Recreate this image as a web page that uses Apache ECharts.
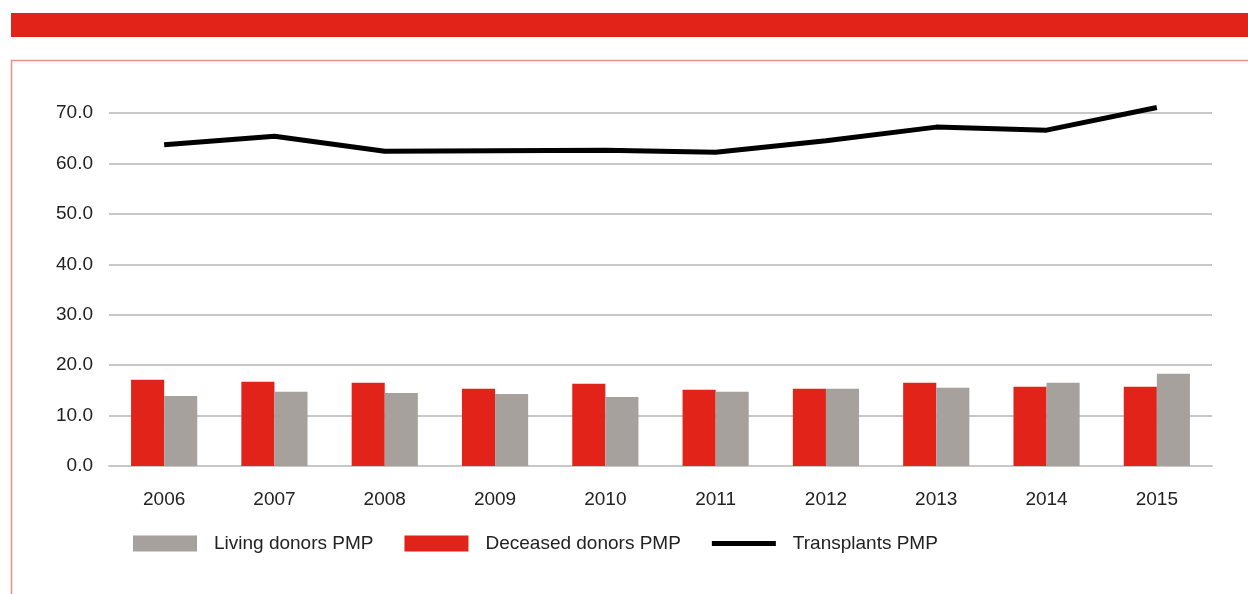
<!DOCTYPE html>
<html>
<head>
<meta charset="utf-8">
<script src="https://cdn.jsdelivr.net/npm/echarts@6/dist/echarts.min.js"></script>
<style>
  html, body { margin: 0; padding: 0; background: #fff; }
  #chart { width: 1248px; height: 594px; }
</style>
</head>
<body>
<div id="chart"></div>
<script>
var years = ['2006', '2007', '2008', '2009', '2010', '2011', '2012', '2013', '2014', '2015'];
var deceasedPMP = [17.1, 16.7, 16.5, 15.3, 16.3, 15.1, 15.3, 16.5, 15.7, 15.7];
var livingPMP = [13.9, 14.7, 14.5, 14.3, 13.7, 14.7, 15.3, 15.5, 16.5, 18.3];
var transplantsPMP = [63.7, 65.4, 62.4, 62.5, 62.6, 62.2, 64.5, 67.2, 66.6, 71.1];
var yTicks = [0, 10, 20, 30, 40, 50, 60, 70];

var RED = '#e2231a';
var GREY = '#a6a19c';
var FONT = '"Liberation Sans", Arial, sans-serif';

var myChart = echarts.init(document.getElementById('chart'));
var option = {
    animation: false,
    backgroundColor: '#fff',
    graphic: [
        // 顶部红条
        { type: 'rect', x: 11, y: 13, shape: { width: 1237, height: 24 }, style: { fill: RED } },
        // 浅红边框
        { type: 'rect', x: 11, y: 60, shape: { x: 0.5, y: 0.5, width: 1300, height: 600 },
          style: { fill: 'none', stroke: '#ec8e8a', lineWidth: 1.5 } }
    ],
    grid: {
        left: 109,
        right: 36,
        top: 113,
        bottom: 128
    },
    legend: {
        left: 128,
        top: 529,
        itemWidth: 64,
        itemHeight: 16,
        itemGap: 31,
        data: [
            { name: 'Living donors PMP', icon: 'rect' },
            { name: 'Deceased donors PMP', icon: 'rect' },
            { name: 'Transplants PMP', icon: 'path://M0,0 L64,0 L64,5 L0,5 Z' }
        ],
        textStyle: {
            fontFamily: FONT,
            fontSize: 19,
            color: '#222',
            padding: [0, 0, 0, 12]
        }
    },
    xAxis: {
        type: 'category',
        data: years,
        axisLine: { show: true, lineStyle: { color: '#c8c8c8', width: 2 } },
        axisTick: { show: false },
        axisLabel: {
            margin: 24,
            fontFamily: FONT,
            fontSize: 19,
            color: '#222'
        }
    },
    yAxis: {
        type: 'value',
        min: yTicks[0],
        max: yTicks[yTicks.length - 1],
        interval: 10,
        axisLine: { show: false },
        axisTick: { show: false },
        splitLine: { lineStyle: { color: '#c8c8c8', width: 2 } },
        axisLabel: {
            margin: 16,
            fontFamily: FONT,
            fontSize: 19,
            color: '#222',
            formatter: function(v){
                return v.toFixed(1);
            }
        }
    },
    series: [{
        name: 'Deceased donors PMP',
        type: 'bar',
        data: deceasedPMP,
        barGap: '0%',
        barCategoryGap: '40%',
        itemStyle: { color: RED }
    }, {
        name: 'Living donors PMP',
        type: 'bar',
        data: livingPMP,
        itemStyle: { color: GREY }
    }, {
        name: 'Transplants PMP',
        type: 'line',
        data: transplantsPMP,
        symbol: 'none',
        clip: false,
        itemStyle: { color: '#000' },
        lineStyle: { color: '#000', width: 5 }
    }]
};
myChart.setOption(option);
</script>
</body>
</html>
